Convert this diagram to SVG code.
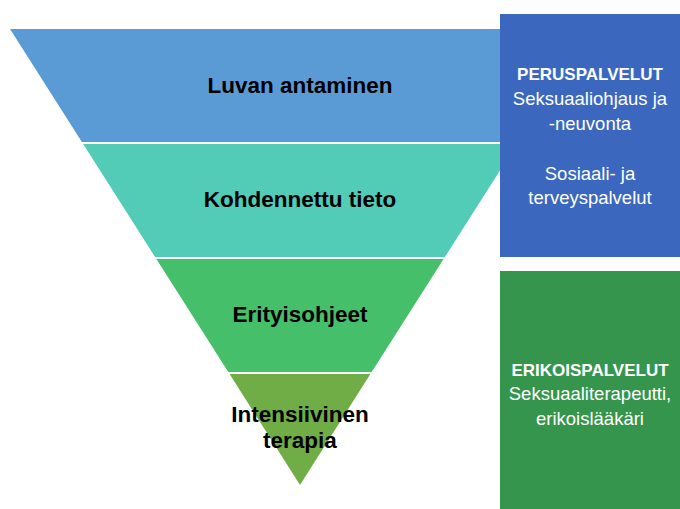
<svg xmlns="http://www.w3.org/2000/svg" width="680" height="509" viewBox="0 0 680 509">
<style>
.lbl{font-family:"Liberation Sans",Arial,sans-serif;font-weight:bold;font-size:22.5px;fill:#000;text-anchor:middle}
.bx{font-family:"Liberation Sans",Arial,sans-serif;font-size:18.5px;fill:#fff;text-anchor:middle}
.bx .b{font-weight:bold;font-size:17px}
</style>
<rect width="680" height="509" fill="#fff"/>
<g id="band1"><polygon points="10,29 590,29 518.1,142 81.9,142" fill="#5B9BD5"/><text class="lbl" x="300" y="93">Luvan antaminen</text></g>
<g id="band2"><polygon points="83.2,144 516.8,144 444.9,257 155.1,257" fill="#52CBB7"/><text class="lbl" x="300" y="207">Kohdennettu tieto</text></g>
<g id="band3"><polygon points="156.4,259 443.6,259 371.7,372 228.3,372" fill="#45BF6A"/><text class="lbl" x="300" y="322">Erityisohjeet</text></g>
<g id="band4"><polygon points="229.6,374 370.4,374 300,485" fill="#70AD47"/><text class="lbl" x="300" y="422">Intensiivinen</text><text class="lbl" x="300" y="448">terapia</text></g>
<g id="peruspalvelut"><rect x="500" y="14" width="180" height="243" fill="#3B68BE"/>
<text class="bx" x="590"><tspan class="b" x="590" y="80">PERUSPALVELUT</tspan><tspan x="590" y="105">Seksuaaliohjaus ja</tspan><tspan x="590" y="130">-neuvonta</tspan><tspan x="590" y="180">Sosiaali- ja</tspan><tspan x="590" y="204">terveyspalvelut</tspan></text></g>
<g id="erikoispalvelut"><rect x="500" y="271" width="180" height="238" fill="#36954C"/>
<text class="bx" x="590"><tspan class="b" x="590" y="376">ERIKOISPALVELUT</tspan><tspan x="590" y="400">Seksuaaliterapeutti,</tspan><tspan x="590" y="425">erikoislääkäri</tspan></text></g>
<g id="connectors"></g>
</svg>
